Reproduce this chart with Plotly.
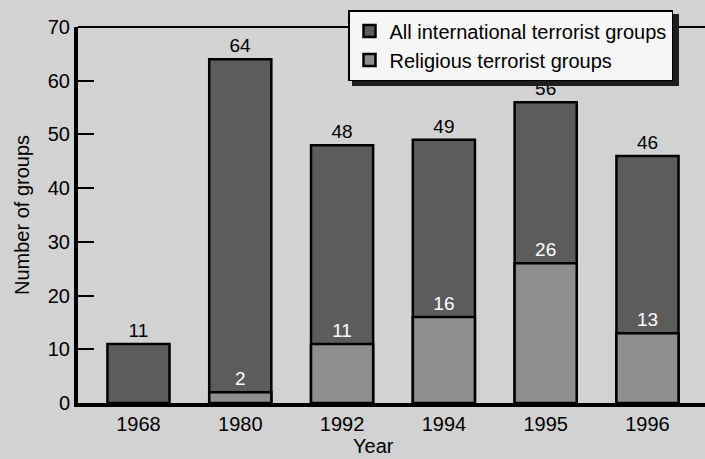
import plotly.graph_objects as go

years = ["1968", "1980", "1992", "1994", "1995", "1996"]
all_groups = [11, 64, 48, 49, 56, 46]
religious_groups = [None, 2, 11, 16, 26, 13]
y_ticks = [0, 10, 20, 30, 40, 50, 60, 70]

FONT = "Liberation Sans, Arial, Helvetica, sans-serif"
DARK = "#5c5c5c"
LIGHT = "#8e8e8e"
BG = "#d2d2d2"

W, H = 705, 459
L, T, B = 78, 27, 56
PW, PH = W - L, H - T - B


def px_x(x):
    return (x - L) / PW


def px_y(y):
    return 1 - (y - T) / PH


fig = go.Figure()
fig.add_trace(go.Bar(
    x=years, y=all_groups, name="All international terrorist groups",
    marker=dict(color=DARK, line=dict(color="black", width=2.5)),
    width=0.61, text=[str(v) for v in all_groups], textposition="outside",
    textfont=dict(color="black", size=19, family=FONT),
    legendgroup="a", cliponaxis=False,
))
fig.add_trace(go.Bar(
    x=years, y=religious_groups, name="Religious terrorist groups",
    marker=dict(color=LIGHT, line=dict(color="black", width=2.5)),
    width=0.61, text=["" if v is None else str(v) for v in religious_groups],
    textposition="outside",
    textfont=dict(color="white", size=19, family=FONT),
    legendgroup="b", cliponaxis=False,
))

# top border line of the plot frame
fig.add_shape(type="line", xref="paper", yref="paper", x0=0, x1=1, y0=1, y1=1,
              line=dict(color="black", width=2), layer="below")
# legend drop shadow
fig.add_shape(type="rect", xref="paper", yref="paper",
              x0=px_x(352), x1=px_x(679), y0=px_y(86), y1=px_y(14),
              fillcolor="#1e1e1e", line=dict(width=0), layer="above")

fig.add_annotation(text="Year", xref="paper", yref="paper",
                   x=px_x(373), y=px_y(446), xanchor="center", yanchor="middle",
                   showarrow=False, font=dict(size=20, family=FONT, color="black"))

fig.update_layout(
    width=W, height=H,
    margin=dict(l=L, r=0, t=T, b=B, autoexpand=False),
    paper_bgcolor=BG, plot_bgcolor=BG,
    barmode="overlay",
    font=dict(family=FONT, size=20, color="black"),
    showlegend=True,
    legend=dict(
        x=px_x(348), y=px_y(10), xanchor="left", yanchor="top",
        bgcolor="#f6f6f6", bordercolor="black", borderwidth=1.5,
        font=dict(size=20, family=FONT), tracegroupgap=6,
        traceorder="normal",
    ),
    xaxis=dict(
        type="category", range=[-0.594, 5.565],
        showline=True, linecolor="black", linewidth=4,
        ticks="", showgrid=False, zeroline=False,
        tickfont=dict(size=20), automargin=False,
    ),
    yaxis=dict(
        range=[0, 70], tickvals=y_ticks,
        showline=True, linecolor="black", linewidth=4,
        ticks="inside", ticklen=16, tickwidth=1.5, tickcolor="black",
        showgrid=False, zeroline=False, automargin=False,
        tickfont=dict(size=20),
        title=dict(text="Number of groups", font=dict(size=20), standoff=14),
    ),
)

fig.write_html(
    "out.html",
    config={"displayModeBar": False},
    post_script="document.body.style.margin='0';document.body.style.padding='0';",
)
